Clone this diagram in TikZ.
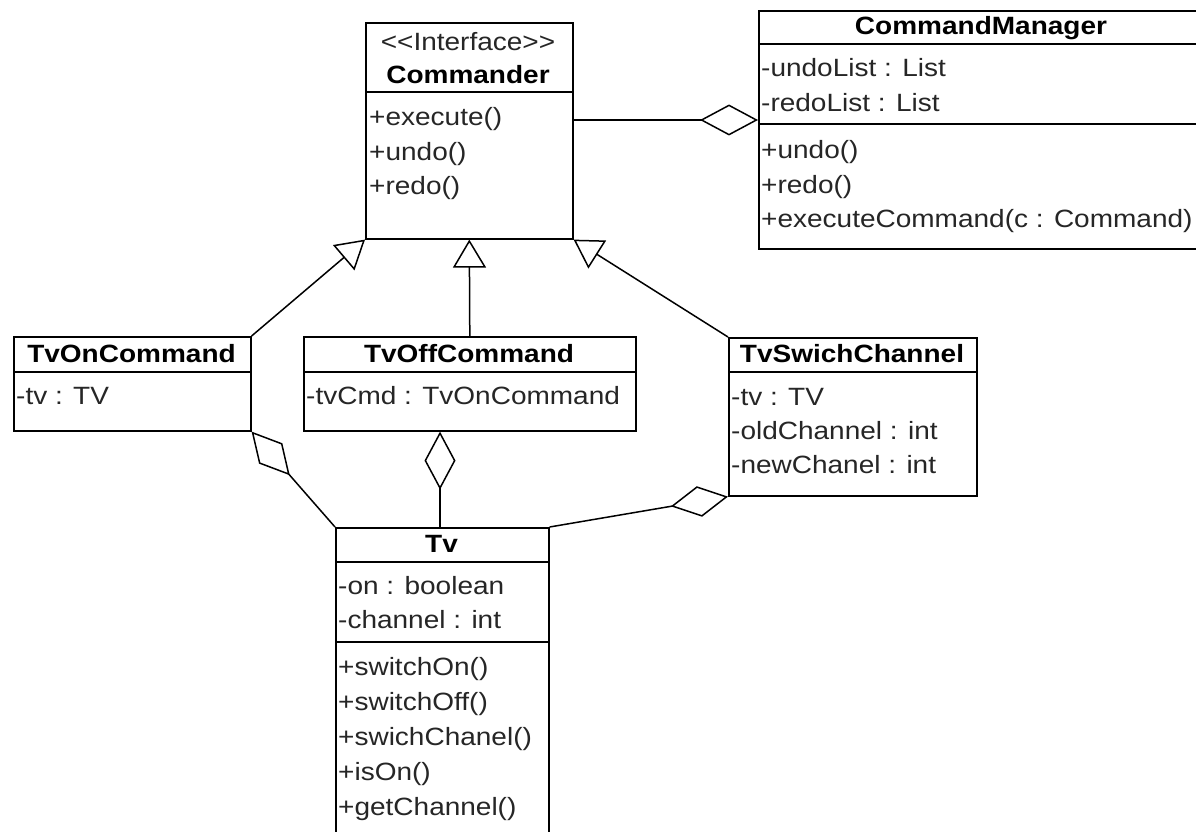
\documentclass[tikz,border=0pt]{standalone}
\usepackage{fontspec}
\setmainfont{Liberation Sans}[FakeStretch=1.12]
\usetikzlibrary{arrows.meta}
\begin{document}
\begin{tikzpicture}[x=1pt,y=-1pt,
  font=\fontsize{25}{30}\selectfont,
  box/.style={draw, line width=1.6pt, inner sep=0pt, anchor=north west},
  txt/.style={anchor=west, inner sep=0pt, text height=0.75em, text depth=0.25em, text=black!85, yshift=-6pt},
  ttl/.style={inner sep=0pt, text height=0.75em, text depth=0.25em, yshift=-6pt, font=\fontsize{25}{30}\selectfont\bfseries},
  stereo/.style={inner sep=0pt, text height=0.75em, text depth=0.25em, yshift=-6pt, text=black!85},
  sep/.style={line width=1.6pt},
  gen/.style={line width=1.5pt, -{Triangle[open, length=28pt, width=33pt, line width=1.5pt]}},
  agg/.style={line width=1.5pt, {Diamond[open, length=58pt, width=31pt, line width=1.5pt]}-}]
\path[use as bounding box, clip] (0,0) rectangle (1196,832);
\fill[white] (0,0) rectangle (1196,832);

% interface Commander
\node[box, minimum width=207pt, minimum height=216pt] (cmd) at (365,22) {};
\draw[sep] (365,92) -- (572,92);
\node[stereo] (cmd-st) at (468,42) {<{}<Interface>{}>};
\node[ttl] (cmd-name) at (468,75) {Commander};
\node[txt] (cmd-m1) at (369,117) {+execute()};
\node[txt] (cmd-m2) at (369,152) {+undo()};
\node[txt] (cmd-m3) at (369,186) {+redo()};

% CommandManager
\node[box, minimum width=447pt, minimum height=238pt] (mgr) at (758,10) {};
\draw[sep] (758,44) -- (1205,44);
\draw[sep] (758,124) -- (1205,124);
\node[ttl] (mgr-name) at (981,26) {CommandManager};
\node[txt] (mgr-a1) at (761,68) {-undoList : List};
\node[txt] (mgr-a2) at (761,103) {-redoList : List};
\node[txt] (mgr-m1) at (761,150) {+undo()};
\node[txt] (mgr-m2) at (761,185) {+redo()};
\node[txt] (mgr-m3) at (761,219) {+executeCommand(c : Command)};

% TvOnCommand
\node[box, minimum width=237pt, minimum height=94pt] (ton) at (13,336) {};
\draw[sep] (13,372) -- (250,372);
\node[ttl] (ton-name) at (131.5,354) {TvOnCommand};
\node[txt] (ton-a1) at (16,396) {-tv : TV};

% TvOffCommand
\node[box, minimum width=332pt, minimum height=94pt] (toff) at (303,336) {};
\draw[sep] (303,372) -- (635,372);
\node[ttl] (toff-name) at (469,354) {TvOffCommand};
\node[txt] (toff-a1) at (306,396) {-tvCmd : TvOnCommand};

% TvSwichChannel
\node[box, minimum width=248pt, minimum height=158pt] (tsw) at (728,337) {};
\draw[sep] (728,372) -- (976,372);
\node[ttl] (tsw-name) at (852,354) {TvSwichChannel};
\node[txt] (tsw-a1) at (731,397) {-tv : TV};
\node[txt] (tsw-a2) at (731,431) {-oldChannel : int};
\node[txt] (tsw-a3) at (731,465) {-newChanel : int};

% Tv
\node[box, minimum width=213pt, minimum height=360pt] (tv) at (335,527) {};
\draw[sep] (335,562) -- (548,562);
\draw[sep] (335,642) -- (548,642);
\node[ttl] (tv-name) at (441.5,544) {Tv};
\node[txt] (tv-a1) at (338,586) {-on : boolean};
\node[txt] (tv-a2) at (338,620) {-channel : int};
\node[txt] (tv-m1) at (338,667) {+switchOn()};
\node[txt] (tv-m2) at (338,702) {+switchOff()};
\node[txt] (tv-m3) at (338,737) {+swichChanel()};
\node[txt] (tv-m4) at (338,772) {+isOn()};
\node[txt] (tv-m5) at (338,807) {+getChannel()};

% realisation of the interface
\draw[gen] (ton.north east) -- (cmd.south west);
\draw[gen] (toff.north) -- (cmd.south);
\draw[gen] (tsw.north west) -- (cmd.south east);

% aggregations
\coordinate (row) at (0,120);
\draw[agg] (mgr.west |- row) -- (cmd.east |- row);
\draw[agg] (ton.south east) -- (tv.north west);
\coordinate (col) at (440,0);
\draw[agg] (toff.south -| col) -- (tv.north -| col);
\draw[agg] (tsw.south west) -- (tv.north east);
\end{tikzpicture}
\end{document}
